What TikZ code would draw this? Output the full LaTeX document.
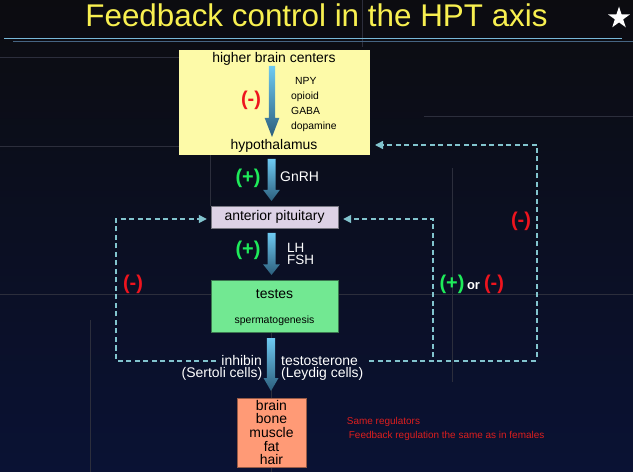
\documentclass[tikz,border=0pt]{standalone}
\usepackage{fontspec}
\setmainfont{Liberation Sans}
\usetikzlibrary{arrows.meta,shapes.geometric,calc}
\definecolor{bgtop}{RGB}{12,12,16}
\definecolor{bgbot}{RGB}{10,18,52}
\definecolor{ttl}{RGB}{248,240,80}
\definecolor{ybox}{RGB}{253,250,168}
\definecolor{lav}{RGB}{221,210,230}
\definecolor{grn}{RGB}{114,232,146}
\definecolor{salm}{RGB}{255,154,118}
\definecolor{fbc}{RGB}{130,196,206}
\definecolor{redc}{RGB}{238,20,30}
\definecolor{grnc}{RGB}{30,235,90}
\definecolor{arrtop}{RGB}{110,202,242}
\definecolor{arrbot}{RGB}{44,94,124}
\definecolor{guide}{RGB}{44,46,60}
\definecolor{rulea}{RGB}{120,184,216}
\definecolor{ruleb}{RGB}{70,100,130}
\definecolor{notec}{RGB}{220,30,30}
\definecolor{pitb}{RGB}{120,120,130}
\definecolor{tesb}{RGB}{60,120,80}
\definecolor{tgtb}{RGB}{150,90,70}
\newcommand\fatarrow[5]{%
 \shade[top color=arrtop, bottom color=arrbot] let \p1=(#1), \p2=(#2) in
 (\x1-#4bp,\y1) -- (\x1+#4bp,\y1) -- (\x1+#4bp,\y2+#3bp) -- (\x1+#5bp,\y2+#3bp)
 -- (\x2,\y2) -- (\x1-#5bp,\y2+#3bp) -- (\x1-#4bp,\y2+#3bp) -- cycle;}
\tikzset{
 fnt/.style={font=\fontsize{14}{15}\selectfont},
 txt/.style={fnt, text=black, inner sep=0pt},
 wtxt/.style={fnt, text=white, inner sep=0pt},
 sign/.style={font=\fontsize{20}{22}\selectfont\bfseries, inner sep=0pt},
 fbline/.style={draw=fbc, line width=1.4bp, dash pattern=on 5bp off 3.5bp},
 fb/.style={fbline, -{Triangle[length=8bp,width=8bp]}},
 guideline/.style={draw=guide, line width=0.5bp},
 note/.style={anchor=west, text=notec, font=\fontsize{10}{12}\selectfont, inner sep=0pt},
}
\begin{document}
\begin{tikzpicture}[x=1bp,y=-1bp]
\useasboundingbox (0,0) rectangle (633,472);
\shade[top color=bgtop, bottom color=bgbot] (0,0) rectangle (633,472);
% faint guide lines
\draw[guideline] (0,57.5) -- (179,57.5);
\draw[guideline] (0,146.5) -- (179,146.5);
\draw[guideline] (424,116) -- (633,116);
\draw[guideline] (362,0) -- (362,47);
\draw[guideline] (210.6,155) -- (210.6,206);
\draw[guideline] (452.5,168) -- (452.5,382);
\draw[guideline] (0,294.5) -- (633,294.5);
\draw[guideline] (90,320) -- (90,472);
\draw[guideline] (271.5,332) -- (271.5,472);
% title and rules
\draw[rulea, line width=1bp] (4,38.3) -- (622,38.3);
\draw[ruleb, line width=1bp] (13,41.3) -- (633,41.3);
\node[anchor=base, text=ttl, font=\fontsize{31.5}{34}\selectfont, inner sep=0pt] (title) at (316.5,27) {Feedback control in the HPT axis};
\node[star, star points=5, star point ratio=2.618, fill=white, minimum size=23bp, inner sep=0pt] (star) at (619,18) {};
% yellow box
\node[fill=ybox, minimum width=191bp, minimum height=105bp, inner sep=0pt] (ybx) at (274.5,102.5) {};
\node[txt] (hbc) at (274,59) {higher brain centers};
\node[txt] (hyp) at (274,145.5) {hypothalamus};
\coordinate (a1s) at (272,66);
\coordinate (a1e) at (272,137);
\fatarrow{a1s}{a1e}{19}{3.2}{7.3}
\node[sign, text=redc] (m1) at (251,100) {(-)};
\node[anchor=base west, text=black, font=\fontsize{10.4}{12}\selectfont, inner sep=0pt] (npy) at (295,84.5) {NPY};
\node[anchor=base west, text=black, font=\fontsize{10.4}{12}\selectfont, inner sep=0pt] (opi) at (291,99.5) {opioid};
\node[anchor=base west, text=black, font=\fontsize{10.4}{12}\selectfont, inner sep=0pt] (gaba) at (291,115) {GABA};
\node[anchor=base west, text=black, font=\fontsize{10.4}{12}\selectfont, inner sep=0pt] (dopa) at (291,130) {dopamine};
% GnRH
\coordinate (a2s) at (271.5,159);
\coordinate (a2e) at (271.5,201);
\fatarrow{a2s}{a2e}{11}{4}{8.3}
\node[sign, text=grnc] (p1) at (248,178) {(+)};
\node[wtxt, anchor=west] (gnrh) at (280,177) {GnRH};
% pituitary
\node[draw=pitb, fill=lav, minimum width=127bp, minimum height=21.5bp, inner sep=0pt, fnt] (pit) at (274.5,217) {anterior pituitary};
% LH FSH
\coordinate (a3s) at (271.5,233);
\coordinate (a3e) at (271.5,275);
\fatarrow{a3s}{a3e}{10.5}{4}{8.3}
\node[sign, text=grnc] (p2) at (248,250) {(+)};
\node[wtxt, anchor=base west, font=\fontsize{13.5}{14}\selectfont] (lh) at (287,252.3) {LH};
\node[wtxt, anchor=base west, font=\fontsize{13.5}{14}\selectfont] (fsh) at (287,265) {FSH};
% testes
\node[draw=tesb, fill=grn, minimum width=127bp, minimum height=52bp, inner sep=0pt] (tes) at (274.5,306.5) {};
\node[txt] (tesl) at (274.5,294.5) {testes};
\node[txt, font=\fontsize{10.5}{12}\selectfont] (sperm) at (274.5,321) {spermatogenesis};
% bottom arrow
\coordinate (a4s) at (271,338);
\coordinate (a4e) at (271,391);
\fatarrow{a4s}{a4e}{13}{4.2}{7.5}
\node[wtxt, anchor=base east] (inh) at (262,365) {inhibin};
\node[wtxt, anchor=base east] (sert) at (262.5,377.5) {(Sertoli cells)};
\node[wtxt, anchor=base west] (testo) at (281,365) {testosterone};
\node[wtxt, anchor=base west] (leyd) at (281,377.5) {(Leydig cells)};
% target box
\node[draw=tgtb, fill=salm, minimum width=69bp, minimum height=69bp, inner sep=0pt] (tgt) at (271.5,432.5) {};
\node[txt, align=center, font=\fontsize{14}{13.6}\selectfont] (tgtl) at (271.5,432.5) {brain\\bone\\muscle\\fat\\hair};
\node[note] (n1) at (346.7,422) {Same regulators};
\node[note] (n2) at (348.7,435.7) {Feedback regulation the same as in females};
% feedback loops
\coordinate (blend) at (216,361);
\coordinate (bl) at (116,361);
\draw[fb, shorten >=4bp] (blend) -- (bl) |- ($(pit.west)+(0,2)$);
\draw[fbline] (369,361) -- (539,361);
\coordinate (ir) at (433,357);
\draw[fb, shorten >=5bp] (ir) |- ($(pit.east)+(0,2)$);
\coordinate (orr) at (537,357);
\coordinate (hypin) at (370,145);
\draw[fb, shorten >=5bp] (orr) |- (hypin);
% signs on loops
\node[sign, text=redc] (m2) at (133,284) {(-)};
\node[sign, text=redc] (m3) at (521,221) {(-)};
\node[sign, text=grnc] (p3) at (452,284) {(+)};
\node[wtxt, font=\fontsize{13}{14}\selectfont\bfseries] (orl) at (473.5,286) {or};
\node[sign, text=redc] (m4) at (494,284) {(-)};
\end{tikzpicture}
\end{document}
